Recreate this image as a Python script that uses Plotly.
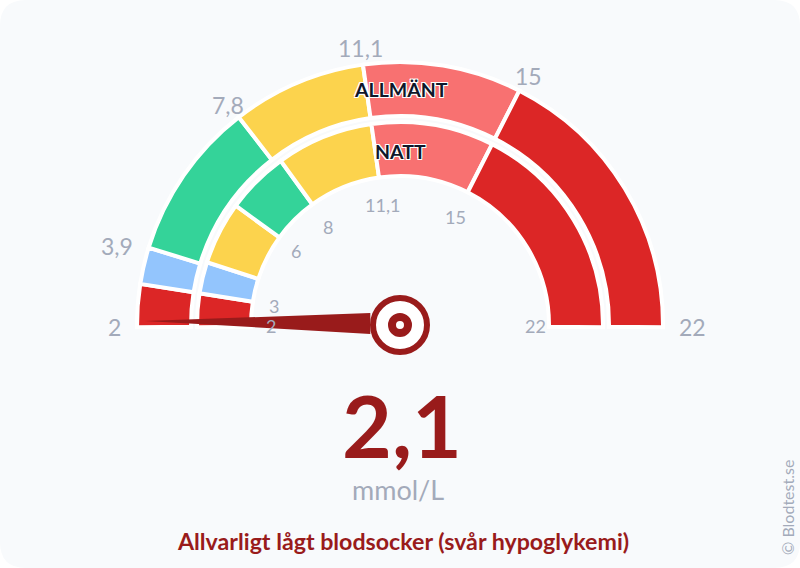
# Blood sugar gauge, two rings (general / night)
import math

import plotly.graph_objects as go

#%% Data

value = 2.1
value_label = "2,1"
unit = "mmol/L"
status = "Allvarligt lågt blodsocker (svår hypoglykemi)"
scale_min = 2
scale_max = 22

outer_limits = [2, 3, 3.9, 7.8, 11.1, 15, 22]
outer_colors = ["#dc2626", "#93c5fd", "#34d399", "#fcd34d", "#f87171", "#dc2626"]
outer_ticks = [2, 3.9, 7.8, 11.1, 15, 22]
outer_tick_labels = ["2", "3,9", "7,8", "11,1", "15", "22"]

inner_limits = [2, 3, 4, 6, 8, 11.1, 15, 22]
inner_colors = ["#dc2626", "#93c5fd", "#fcd34d", "#34d399", "#fcd34d", "#f87171", "#dc2626"]
inner_ticks = [2, 3, 6, 8, 11.1, 15, 22]
inner_tick_labels = ["2", "3", "6", "8", "11,1", "15", "22"]

#%% Style

W, H = 800, 568
FONT = "Lato"
DARK_RED = "#991b1b"
GREY = "#a3aaba"
CARD = "#f8fafc"

# pixels, the radial axis runs 1:1 with the screen
R_MAX = 300
CX, CY = 400, 325
LINE = 4
# sector reaches below the base line so the needle is not cut off
OVER = 20


def angle(v):
    return (v - scale_min) / (scale_max - scale_min) * 180


def ring(limits, colors, r_in, r_out):
    starts = [angle(v) for v in limits[:-1]]
    ends = [angle(v) for v in limits[1:]]
    # white outline eats half its width, push the two end bars back to the base line
    extra = math.degrees(LINE / 2 / ((r_in + r_out) / 2))
    starts[0] -= extra
    ends[-1] += extra
    return go.Barpolar(
        theta=[(a + b) / 2 for a, b in zip(starts, ends)],
        width=[b - a for a, b in zip(starts, ends)],
        base=[r_in - LINE / 2] * len(colors),
        r=[r_out - r_in + LINE] * len(colors),
        marker=dict(color=colors, line=dict(color="white", width=LINE)),
        hoverinfo="skip",
    )


fig = go.Figure()

fig.add_trace(ring(outer_limits, outer_colors, 211, 261))
fig.add_trace(ring(inner_limits, inner_colors, 151, 201))

# needle
needle_a = angle(value)
fig.add_trace(go.Scatterpolar(
    r=[255, 32, 31, 255],
    theta=[needle_a, 21.8, -16.7, needle_a],
    mode="lines",
    fill="toself",
    fillcolor=DARK_RED,
    line=dict(color=DARK_RED, width=0),
    hoverinfo="skip",
))

# hub
fig.add_trace(go.Scatterpolar(
    r=[0, 0],
    theta=[0, 0],
    mode="markers",
    marker=dict(size=[54, 16], color="white", opacity=1,
                line=dict(color=DARK_RED, width=[6, 8])),
    hoverinfo="skip",
))

#%% Card behind everything

x0, y0, x1, y1, c = 0, 0, W, H, 26
card_path = (
    f"M {x0 + c} {y0} L {x1 - c} {y0} Q {x1} {y0} {x1} {y0 + c} "
    f"L {x1} {y1 - c} Q {x1} {y1} {x1 - c} {y1} L {x0 + c} {y1} "
    f"Q {x0} {y1} {x0} {y1 - c} L {x0} {y0 + c} Q {x0} {y0} {x0 + c} {y0} Z"
)
fig.add_shape(type="path", path=card_path, xref="x", yref="y", layer="below",
              fillcolor=CARD, line=dict(width=0))

#%% Text


def px_text(x, y, text, size, color, weight=400, shadow=None, angle_deg=0, anchor="center"):
    fig.add_annotation(
        x=x, y=y, xref="x", yref="y", text=text, showarrow=False,
        xanchor=anchor, yanchor="middle", textangle=angle_deg,
        font=dict(family=FONT, size=size, color=color, weight=weight,
                  shadow=shadow or "none"),
    )


def tick_labels(ticks, labels, radii, anchors, size, dy):
    for v, label, r, anchor in zip(ticks, labels, radii, anchors):
        a = math.radians(angle(v))
        px_text(CX - r * math.cos(a), CY - r * math.sin(a) + dy, label, size, GREY, anchor=anchor)


tick_labels(outer_ticks, outer_tick_labels, [277, 277, 281, 282, 282, 277],
            ["right", "right", "center", "center", "center", "left"], 23, 2)
tick_labels(inner_ticks, inner_tick_labels, [129, 128, 128, 122, 122, 122, 135],
            ["center"] * 7, 18, 1)

outline = "1px 1px 0 #fff, -1px -1px 0 #fff, 1px -1px 0 #fff, -1px 1px 0 #fff"
px_text(401, 89, "ALLMÄNT", 19.5, "#0f172a", 700, outline)
px_text(400, 151, "NATT", 19.5, "#0f172a", 700, outline)
px_text(402, 424, value_label, 86, DARK_RED, 700)
px_text(398, 489, unit, 27, GREY)
px_text(403, 541, status, 23.2, DARK_RED, 700)
px_text(787, 508, "© Blodtest.se", 16, GREY, angle_deg=-90)

#%% Layout

fig.update_layout(
    width=W,
    height=H,
    margin=dict(l=0, r=0, t=0, b=0),
    paper_bgcolor="white",
    plot_bgcolor="rgba(0,0,0,0)",
    showlegend=False,
    # hidden pixel axes for the card and the texts
    xaxis=dict(range=[0, W], visible=False, fixedrange=True),
    yaxis=dict(range=[H, 0], visible=False, fixedrange=True),
    polar=dict(
        domain=dict(x=[(CX - R_MAX) / W, (CX + R_MAX) / W],
                    y=[(H - CY - R_MAX * math.sin(math.radians(OVER))) / H,
                       (H - CY + R_MAX) / H]),
        sector=[-OVER, 180 + OVER],
        bgcolor="rgba(0,0,0,0)",
        barmode="overlay",
        radialaxis=dict(range=[0, R_MAX], visible=False),
        angularaxis=dict(rotation=180, direction="clockwise", thetaunit="degrees", visible=False),
    ),
)

fig.write_html("out.html", config=dict(displayModeBar=False),
               post_script="document.body.style.margin='0';")
